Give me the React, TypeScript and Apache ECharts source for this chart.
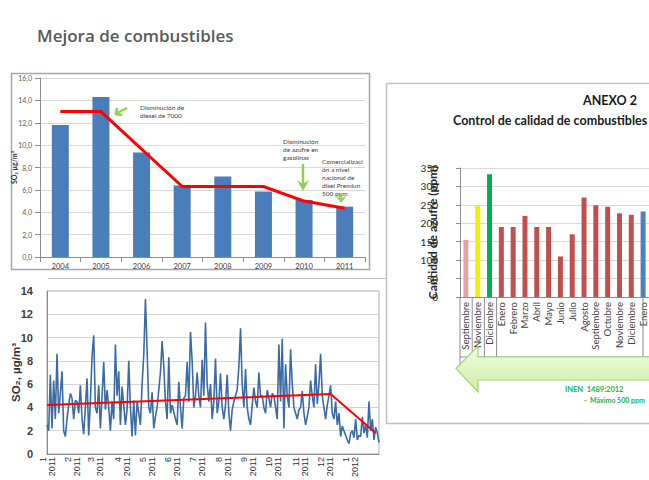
import React, { useEffect, useRef } from "react";
import * as echarts from "echarts";

// ---- Chart 1: annual SO2 ----
const yearCats = ["2004", "2005", "2006", "2007", "2008", "2009", "2010", "2011"];
const yearSO2 = [11.8, 14.3, 9.35, 6.4, 7.2, 5.85, 5.1, 4.5];
const yearTrend = [13.0, 13.0, null, 6.3, null, 6.3, 5.0, 4.35];

// ---- Chart 2: daily SO2 (every 2 days, Jan 2011 - Jan 2012) ----
const dailySO2 = [
  2.5, 2.0, 6.8, 2.2, 6.3, 3.0, 8.6, 3.5, 5.2, 7.1,
  2.0, 1.5, 3.0, 4.2, 5.2, 4.8, 3.0, 4.6, 4.5, 3.5,
  5.9, 3.0, 1.7, 4.0, 6.5, 1.6, 4.5, 8.4, 10.2, 4.0,
  3.5, 5.9, 2.2, 5.0, 7.9, 3.8, 5.5, 4.0, 2.0, 4.5,
  3.0, 9.4, 5.0, 7.1, 2.5, 5.8, 4.2, 2.5, 3.8, 8.0,
  4.0, 1.5, 4.6, 1.6, 4.5, 3.5, 2.5, 6.0, 8.5, 13.3,
  9.0, 4.0, 3.5, 5.3, 2.2, 3.2, 4.0, 5.5, 7.0, 9.7,
  7.5, 4.5, 3.0, 8.3, 3.5, 4.2, 3.6, 3.0, 2.5, 6.2,
  4.0, 2.2, 4.8, 5.0, 7.9, 4.5, 10.5, 8.0, 4.0, 5.0,
  7.0, 5.0, 4.0, 8.1, 5.0, 11.3, 6.0, 4.5, 6.0, 3.0,
  4.5, 8.2, 3.5, 4.5, 6.9, 4.0, 3.0, 4.2, 6.8, 3.5,
  2.0, 3.8, 4.5, 5.0, 5.5, 7.5, 10.8, 6.0, 4.0, 7.3,
  4.0, 3.0, 2.5, 4.2, 5.7, 4.5, 4.0, 7.0, 5.0, 5.0,
  4.0, 3.5, 5.5, 4.8, 4.0, 5.2, 5.0, 4.0, 3.0, 9.4,
  4.5, 9.9, 2.2, 7.7, 5.0, 4.0, 9.0, 6.0, 4.0, 3.5,
  3.0, 3.8, 4.0, 5.4, 3.5, 2.5, 3.2, 4.0, 6.3, 5.0,
  4.0, 7.7, 4.3, 6.0, 8.6, 5.0, 4.0, 3.0, 4.2, 5.0,
  5.9, 3.5, 3.0, 4.5, 2.5, 3.5, 1.5, 2.4, 2.0, 1.6,
  1.2, 0.9, 1.8, 2.0, 1.4, 3.0, 1.2, 1.6, 1.5, 3.2,
  1.8, 2.5, 1.4, 4.5, 2.0, 3.0, 1.2, 2.3, 1.8, 1.0,
];
const monthTickIdx = [0, 15, 29, 45, 60, 75, 90, 106, 121, 136, 152, 167, 182];
const monthTickLabels = [
  "1\n2011", "2\n2011", "3\n2011", "4\n2011", "5\n2011", "6\n2011", "7\n2011",
  "8\n2011", "9\n2011", "10\n2011", "11\n2011", "12\n2011", "1\n2012",
];
const trendIdx = [0, 170, 197];
const trendVal = [4.2, 5.15, 1.8];

// ---- Chart 3: sulfur content ----
const monthCats = [
  "Septiembre", "Noviembre", "Diciembre", "Enero", "Febrero", "Marzo", "Abril", "Mayo",
  "Junio", "Julio", "Agosto", "Septiembre", "Octubre", "Noviembre", "Diciembre", "Enero",
];
const sulfurPpm = [155, 248, 333, 190, 190, 220, 190, 190, 110, 170, 270, 249, 245, 227, 223, 232];
const barColors = [
  "#e6a3a3", "#f0f000", "#00b050",
  "#c0504d", "#c0504d", "#c0504d", "#c0504d", "#c0504d", "#c0504d",
  "#c0504d", "#c0504d", "#c0504d", "#c0504d", "#c0504d", "#c0504d",
  "#4f81bd",
];

const G3_LEFT = 460;
const G3_CAT = 12.2;

export default function App() {
  const ref = useRef<HTMLDivElement>(null);
  useEffect(() => {
    if (!ref.current) return;
    const chart = echarts.init(ref.current, undefined, { renderer: "svg" });

    const dailyCats = dailySO2.map((_, i) => String(i));
    const trendData: (number | null)[] = dailySO2.map(() => null);
    trendIdx.forEach((ix, k) => (trendData[ix] = trendVal[k]));

    const calibri = "Lato";
    const green = "#92d050";

    const seps = [0, 1, 2, 3, 15].map((k) => ({
      type: "line",
      z: 5,
      shape: { x1: G3_LEFT + k * G3_CAT, y1: 297, x2: G3_LEFT + k * G3_CAT, y2: k === 0 ? 366 : 357 },
      style: { stroke: "#8c8c8c", lineWidth: 1 },
    }));

    const option: any = {
      animation: false,
      backgroundColor: "#ffffff",
      grid: [
        { left: 40, top: 78, width: 325, height: 179 },
        { left: 47, top: 291, width: 332, height: 172, show: true, borderColor: "#b0b0b0", borderWidth: 1 },
        { left: G3_LEFT, top: 168, width: G3_CAT * monthCats.length, height: 129 },
      ],
      xAxis: [
        {
          gridIndex: 0,
          type: "category",
          data: yearCats,
          axisLine: { lineStyle: { color: "#8c8c8c" } },
          axisTick: { show: true, lineStyle: { color: "#8c8c8c" } },
          axisLabel: { fontSize: 7.5, color: "#404040", fontFamily: calibri, margin: 5 },
        },
        {
          gridIndex: 1,
          type: "category",
          data: dailyCats,
          boundaryGap: false,
          axisLine: { lineStyle: { color: "#8c8c8c" } },
          axisTick: { show: false },
          axisLabel: {
            rotate: 90,
            fontSize: 9,
            lineHeight: 9,
            color: "#333333",
            fontFamily: "Liberation Sans",
            margin: 3,
            interval: (idx: number) => monthTickIdx.includes(idx),
            formatter: (_v: string, idx: number) => {
              const k = monthTickIdx.indexOf(idx);
              return k >= 0 ? monthTickLabels[k] : "";
            },
          },
        },
        {
          gridIndex: 2,
          type: "category",
          data: monthCats,
          axisLine: { lineStyle: { color: "#8c8c8c" } },
          axisTick: { show: false },
          axisLabel: { rotate: 90, interval: 0, fontSize: 9.5, color: "#404040", fontFamily: calibri, margin: 5 },
        },
      ],
      yAxis: [
        {
          gridIndex: 0,
          type: "value",
          min: 0,
          max: 16,
          interval: 2,
          name: "SO\u2082 \u00b5g/m\u00b3",
          nameLocation: "middle",
          nameGap: 23,
          nameMoveOverlap: false,
          nameTextStyle: { fontSize: 7, fontWeight: "bold", color: "#333333", fontFamily: calibri },
          axisLine: { show: true, lineStyle: { color: "#8c8c8c" } },
          axisTick: { show: true, lineStyle: { color: "#8c8c8c" } },
          splitLine: { lineStyle: { color: "#d9d9d9" } },
          axisLabel: {
            fontSize: 7,
            color: "#595959",
            fontFamily: calibri,
            margin: 8,
            formatter: (v: number) => v.toFixed(1).replace(".", ","),
          },
        },
        {
          gridIndex: 1,
          type: "value",
          min: 0,
          max: 14,
          interval: 2,
          name: "SO\u2082, \u00b5g/m\u00b3",
          nameLocation: "middle",
          nameGap: 25,
          nameMoveOverlap: false,
          nameTextStyle: { fontSize: 11.5, fontWeight: "bold", color: "#333333", fontFamily: "Liberation Sans" },
          axisLine: { show: true, lineStyle: { color: "#8c8c8c" } },
          axisTick: { show: false },
          splitLine: { lineStyle: { color: "#d4d4d4" } },
          axisLabel: { fontSize: 11, fontWeight: "bold", color: "#404040", fontFamily: "Liberation Sans", margin: 14 },
        },
        {
          gridIndex: 2,
          type: "value",
          min: 0,
          max: 350,
          interval: 50,
          name: "Cantidad de azufre (ppm)",
          nameLocation: "middle",
          nameGap: 22,
          nameMoveOverlap: false,
          nameTextStyle: { fontSize: 12, fontWeight: "bold", color: "#262626", fontFamily: calibri },
          axisLine: { show: true, lineStyle: { color: "#8c8c8c" } },
          axisTick: { show: true, length: 4, lineStyle: { color: "#8c8c8c" } },
          splitLine: { lineStyle: { color: "#d9d9d9" } },
          axisLabel: { fontSize: 10, color: "#262626", fontFamily: calibri, margin: 22 },
        },
      ],
      series: [
        {
          type: "bar",
          xAxisIndex: 0,
          yAxisIndex: 0,
          data: yearSO2,
          barWidth: 17,
          itemStyle: { color: "#4a7ebb" },
        },
        {
          type: "line",
          xAxisIndex: 0,
          yAxisIndex: 0,
          data: yearTrend,
          connectNulls: true,
          symbol: "none",
          lineStyle: { color: "#ff0000", width: 3 },
          z: 4,
        },
        {
          type: "line",
          xAxisIndex: 1,
          yAxisIndex: 1,
          data: dailySO2,
          symbol: "none",
          lineStyle: { color: "#3b6ba5", width: 1.6 },
        },
        {
          type: "line",
          xAxisIndex: 1,
          yAxisIndex: 1,
          data: trendData,
          connectNulls: true,
          symbol: "none",
          lineStyle: { color: "#ff0000", width: 2 },
          z: 4,
        },
        {
          type: "bar",
          xAxisIndex: 2,
          yAxisIndex: 2,
          data: sulfurPpm.map((v, i) => ({ value: v, itemStyle: { color: barColors[i] } })),
          barWidth: 5,
        },
      ],
      graphic: [
        {
          type: "text",
          x: 37,
          y: 35,
          style: {
            text: "Mejora de combustibles",
            fill: "#595959",
            fontSize: 17,
            fontWeight: 600,
            fontFamily: "Open Sans",
            textVerticalAlign: "middle",
          },
        },
        // chart 1 frame
        { type: "rect", shape: { x: 11.5, y: 73.5, width: 358, height: 196 }, style: { fill: "none", stroke: "#a6a6a6", lineWidth: 1.5 } },
        // chart 1 annotations
        ...[
          { x: 140, y: 107, t: "Disminución de" },
          { x: 140, y: 115, t: "diesel de 7000" },
          { x: 283, y: 141, t: "Disminución" },
          { x: 283, y: 149, t: "de azufre en" },
          { x: 283, y: 157, t: "gasolinas" },
          { x: 322, y: 161, t: "Comercializaci" },
          { x: 322, y: 169, t: "ón a nivel" },
          { x: 322, y: 177, t: "nacional de" },
          { x: 322, y: 185, t: "disel Premiun" },
          { x: 322, y: 193, t: "500 ppm" },
        ].map((a) => ({
          type: "text",
          x: a.x,
          y: a.y,
          z: 10,
          style: { text: a.t, fill: "#404040", fontSize: 6.5, fontFamily: calibri, textVerticalAlign: "middle" },
        })),
        // arrow 1 (pointing lower-left)
        { type: "line", z: 10, shape: { x1: 127, y1: 108, x2: 117, y2: 113 }, style: { stroke: green, lineWidth: 2.5 } },
        { type: "polyline", z: 10, shape: { points: [[117, 108], [116, 114], [122, 115]] }, style: { stroke: green, lineWidth: 2.5, fill: "none" } },
        // arrow 2 (down)
        { type: "line", z: 10, shape: { x1: 303, y1: 164, x2: 303, y2: 186 }, style: { stroke: green, lineWidth: 2.5 } },
        { type: "polygon", z: 10, shape: { points: [[297, 180], [303, 184], [309, 180], [303, 191]] }, style: { fill: green } },
        // arrow 3 (down)
        { type: "line", z: 10, shape: { x1: 341, y1: 193, x2: 341, y2: 199 }, style: { stroke: green, lineWidth: 2.5 } },
        { type: "polygon", z: 10, shape: { points: [[335, 195], [341, 199], [347, 195], [341, 203]] }, style: { fill: green } },
        // chart 2 top frame line
        { type: "line", shape: { x1: 48, y1: 278.5, x2: 386, y2: 278.5 }, style: { stroke: "#c0c0c0", lineWidth: 1 } },
        // chart 3 frame
        { type: "rect", shape: { x: 386.5, y: 83.5, width: 290, height: 340 }, style: { fill: "none", stroke: "#bfbfbf", lineWidth: 1.5 } },
        {
          type: "text",
          x: 583,
          y: 100,
          style: { text: "ANEXO 2", fill: "#1a1a1a", fontSize: 12.5, fontWeight: "bold", fontFamily: calibri, textVerticalAlign: "middle" },
        },
        {
          type: "text",
          x: 453,
          y: 120,
          style: {
            text: "Control de calidad de combustibles",
            fill: "#1a1a1a",
            fontSize: 12.5,
            fontWeight: "bold",
            fontFamily: calibri,
            textVerticalAlign: "middle",
          },
        },
        ...seps,
        { type: "line", z: 5, shape: { x1: G3_LEFT, y1: 357, x2: 660, y2: 357 }, style: { stroke: "#8c8c8c", lineWidth: 1 } },
        {
          type: "polygon",
          z: 20,
          shape: {
            points: [
              [456, 368.5], [478, 346], [478, 357], [665, 357], [665, 380], [478, 380], [478, 392],
            ],
          },
          style: {
            fill: new echarts.graphic.LinearGradient(0, 0, 0, 1, [
              { offset: 0, color: "#f1fbe3" },
              { offset: 1, color: "#cdeea6" },
            ]),
            stroke: "#a4d86e",
            lineWidth: 1.2,
          },
        },
        {
          type: "text",
          x: 565,
          y: 389,
          z: 21,
          style: { text: "INEN  1489:2012", fill: "#22b14c", fontSize: 7.5, fontWeight: "bold", fontFamily: calibri, textVerticalAlign: "middle" },
        },
        {
          type: "text",
          x: 584,
          y: 400,
          z: 21,
          style: { text: "-  Máximo 500 ppm", fill: "#22b14c", fontSize: 7, fontWeight: "bold", fontFamily: calibri, textVerticalAlign: "middle" },
        },
      ],
    };
    chart.setOption(option);
    return () => chart.dispose();
  }, []);
  return (
    <div
      ref={ref}
      style={{ position: "fixed", left: 0, top: 0, width: 649, height: 480, background: "#fff" }}
    />
  );
}
